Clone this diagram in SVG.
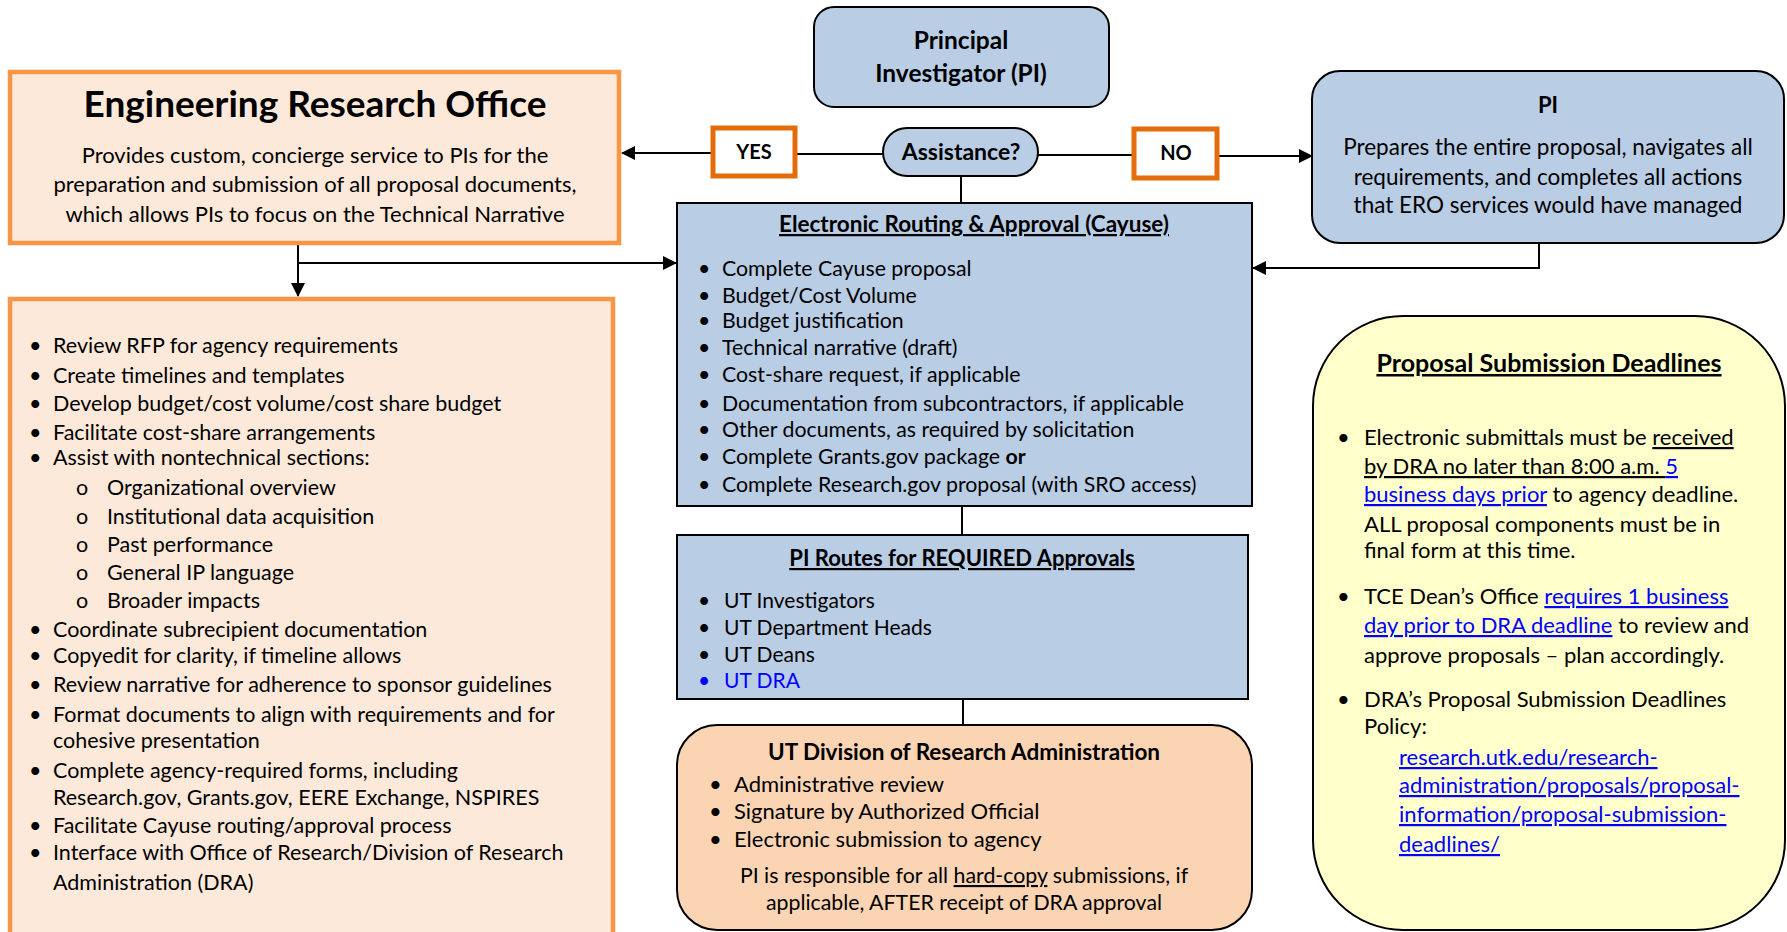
<svg xmlns="http://www.w3.org/2000/svg" width="1787" height="932" viewBox="0 0 1787 932">
<defs>
<style>
text { font-family: Lato, "Liberation Sans", sans-serif; fill: #000; }
.b { font-weight: bold; }
.s20 { font-size: 20px; }
.s21 { font-size: 21px; }
.c { text-anchor: middle; }
.u { text-decoration: underline; }
.blue { fill: #0000FF; }
.conn { stroke: #000; stroke-width: 2; fill: none; }
.blue-box { fill: #B9CDE5; stroke: #000; stroke-width: 2; }
.peach { fill: #FDE9D9; stroke: #F79646; stroke-width: 4.5; }
.tag { fill: #FFFFFF; stroke: #E46C0A; stroke-width: 5; }
</style>
<marker id="arr" markerUnits="userSpaceOnUse" markerWidth="14" markerHeight="14" refX="13" refY="7" orient="auto">
<path d="M0,0 L14,7 L0,14 Z" fill="#000"/>
</marker>
</defs>
<rect width="1787" height="932" fill="#FFFFFF"/>

<g id="connectors">
<line class="conn" x1="883" y1="154" x2="796" y2="154"/>
<line class="conn" x1="711" y1="153" x2="622" y2="153" marker-end="url(#arr)"/>
<line class="conn" x1="1038" y1="155" x2="1132" y2="155"/>
<line class="conn" x1="1219" y1="156" x2="1312" y2="156" marker-end="url(#arr)"/>
<line class="conn" x1="961" y1="176" x2="961" y2="203"/>
<line class="conn" x1="298" y1="245" x2="298" y2="296" marker-end="url(#arr)"/>
<line class="conn" x1="298" y1="263" x2="676" y2="263" marker-end="url(#arr)"/>
<polyline class="conn" points="1539,243 1539,268 1253,268" marker-end="url(#arr)"/>
<line class="conn" x1="962" y1="506" x2="962" y2="534"/>
<line class="conn" x1="963" y1="699" x2="963" y2="724"/>
</g>

<g id="principal-investigator">
<rect class="blue-box" x="814" y="7" width="295" height="100" rx="20"/>
<text class="b c" x="961" y="49" style="font-size:24.5px">Principal</text>
<text class="b c" x="961" y="82" style="font-size:24.5px">Investigator (PI)</text>
</g>

<g id="assistance">
<rect class="blue-box" x="883" y="128" width="155" height="48" rx="24"/>
<text class="b c" x="961" y="160" style="font-size:23px">Assistance?</text>
</g>

<g id="yes">
<rect class="tag" x="713" y="128" width="82" height="48"/>
<text class="b s20 c" x="754" y="159">YES</text>
</g>

<g id="no">
<rect class="tag" x="1134" y="129" width="83" height="49"/>
<text class="b s20 c" x="1176" y="160">NO</text>
</g>

<g id="ero">
<rect class="peach" x="10" y="72" width="609" height="171"/>
<text class="b c" x="315" y="117" style="font-size:37px">Engineering Research Office</text>
<g style="font-size:22px">
<text class="c" x="315" y="163">Provides custom, concierge service to PIs for the</text>
<text class="c" x="315" y="192">preparation and submission of all proposal documents,</text>
<text class="c" x="315" y="222">which allows PIs to focus on the Technical Narrative</text>
</g>
</g>

<g id="pi-self">
<rect class="blue-box" x="1312" y="71" width="472" height="172" rx="28"/>
<text class="b c" x="1548" y="113" style="font-size:22px">PI</text>
<g style="font-size:22.5px">
<text class="c" x="1548" y="155">Prepares the entire proposal, navigates all</text>
<text class="c" x="1548" y="185">requirements, and completes all actions</text>
<text class="c" x="1548" y="213">that ERO services would have managed</text>
</g>
</g>

<g id="ero-services">
<rect class="peach" x="10" y="299" width="603" height="640"/>
<g style="font-size:21.5px">
<text x="29" y="353">•</text><text x="53" y="353">Review RFP for agency requirements</text>
<text x="29" y="383">•</text><text x="53" y="383">Create timelines and templates</text>
<text x="29" y="411">•</text><text x="53" y="411">Develop budget/cost volume/cost share budget</text>
<text x="29" y="440">•</text><text x="53" y="440">Facilitate cost-share arrangements</text>
<text x="29" y="465">•</text><text x="53" y="465">Assist with nontechnical sections:</text>
<text x="76" y="495">o</text><text x="107" y="495">Organizational overview</text>
<text x="76" y="524">o</text><text x="107" y="524">Institutional data acquisition</text>
<text x="76" y="552">o</text><text x="107" y="552">Past performance</text>
<text x="76" y="580">o</text><text x="107" y="580">General IP language</text>
<text x="76" y="608">o</text><text x="107" y="608">Broader impacts</text>
<text x="29" y="637">•</text><text x="53" y="637">Coordinate subrecipient documentation</text>
<text x="29" y="663">•</text><text x="53" y="663">Copyedit for clarity, if timeline allows</text>
<text x="29" y="692">•</text><text x="53" y="692">Review narrative for adherence to sponsor guidelines</text>
<text x="29" y="722">•</text><text x="53" y="722">Format documents to align with requirements and for</text>
<text x="53" y="748">cohesive presentation</text>
<text x="29" y="778">•</text><text x="53" y="778">Complete agency-required forms, including</text>
<text x="53" y="805">Research.gov, Grants.gov, EERE Exchange, NSPIRES</text>
<text x="29" y="833">•</text><text x="53" y="833">Facilitate Cayuse routing/approval process</text>
<text x="29" y="860">•</text><text x="53" y="860">Interface with Office of Research/Division of Research</text>
<text x="53" y="890">Administration (DRA)</text>
</g>
</g>

<g id="cayuse">
<rect class="blue-box" x="677" y="203" width="575" height="303"/>
<text class="b c u" x="974" y="232" style="font-size:22.5px">Electronic Routing &amp; Approval (Cayuse)</text>
<g style="font-size:21.3px">
<text x="698" y="276">•</text><text x="722" y="276">Complete Cayuse proposal</text>
<text x="698" y="303">•</text><text x="722" y="303">Budget/Cost Volume</text>
<text x="698" y="328">•</text><text x="722" y="328">Budget justification</text>
<text x="698" y="355">•</text><text x="722" y="355">Technical narrative (draft)</text>
<text x="698" y="382">•</text><text x="722" y="382">Cost-share request, if applicable</text>
<text x="698" y="411">•</text><text x="722" y="411">Documentation from subcontractors, if applicable</text>
<text x="698" y="437">•</text><text x="722" y="437">Other documents, as required by solicitation</text>
<text x="698" y="464">•</text><text x="722" y="464">Complete Grants.gov package <tspan class="b">or</tspan></text>
<text x="698" y="492">•</text><text x="722" y="492">Complete Research.gov proposal (with SRO access)</text>
</g>
</g>

<g id="pi-routes">
<rect class="blue-box" x="677" y="535" width="571" height="164"/>
<text class="b c u" x="962" y="566" style="font-size:22px">PI Routes for REQUIRED Approvals</text>
<g style="font-size:21px">
<text x="698" y="608">•</text><text x="724" y="608">UT Investigators</text>
<text x="698" y="635">•</text><text x="724" y="635">UT Department Heads</text>
<text x="698" y="662">•</text><text x="724" y="662">UT Deans</text>
<text class="blue" x="698" y="688">•</text><text class="blue" x="724" y="688">UT DRA</text>
</g>
</g>

<g id="ut-dra">
<rect x="677" y="725" width="575" height="205" rx="40" fill="#FBD4B4" stroke="#000" stroke-width="2"/>
<text class="b c" x="964" y="760" style="font-size:22.5px">UT Division of Research Administration</text>
<g style="font-size:22px">
<text x="709" y="792">•</text><text x="734" y="792">Administrative review</text>
<text x="709" y="819">•</text><text x="734" y="819">Signature by Authorized Official</text>
<text x="709" y="847">•</text><text x="734" y="847">Electronic submission to agency</text>
</g>
<g style="font-size:21.3px">
<text class="c" x="964" y="883">PI is responsible for all <tspan class="u">hard-copy</tspan> submissions, if</text>
<text class="c" x="964" y="910">applicable, AFTER receipt of DRA approval</text>
</g>
</g>

<g id="deadlines">
<rect x="1313" y="316" width="472" height="614" rx="90" fill="#FFFFCC" stroke="#000" stroke-width="2"/>
<text class="b c u" x="1549" y="372" style="font-size:25px">Proposal Submission Deadlines</text>
<g style="font-size:22px">
<text x="1337" y="445">•</text><text x="1364" y="445">Electronic submittals must be <tspan class="u">received</tspan></text>
<text x="1364" y="474"><tspan class="u">by DRA no later than 8:00 a.m. </tspan><tspan class="u blue">5</tspan></text>
<text x="1364" y="502"><tspan class="u blue">business days prior</tspan> to agency deadline.</text>
<text x="1364" y="532">ALL proposal components must be in</text>
<text x="1364" y="558">final form at this time.</text>
<text x="1337" y="604">•</text><text x="1364" y="604">TCE Dean’s Office <tspan class="u blue">requires 1 business</tspan></text>
<text x="1364" y="633"><tspan class="u blue">day prior to DRA deadline</tspan> to review and</text>
<text x="1364" y="663">approve proposals – plan accordingly.</text>
<text x="1337" y="707">•</text><text x="1364" y="707">DRA’s Proposal Submission Deadlines</text>
<text x="1364" y="734">Policy:</text>
<text class="u blue" x="1399" y="765">research.utk.edu/research-</text>
<text class="u blue" x="1399" y="793">administration/proposals/proposal-</text>
<text class="u blue" x="1399" y="822">information/proposal-submission-</text>
<text class="u blue" x="1399" y="852">deadlines/</text>
</g>
</g>
</svg>
